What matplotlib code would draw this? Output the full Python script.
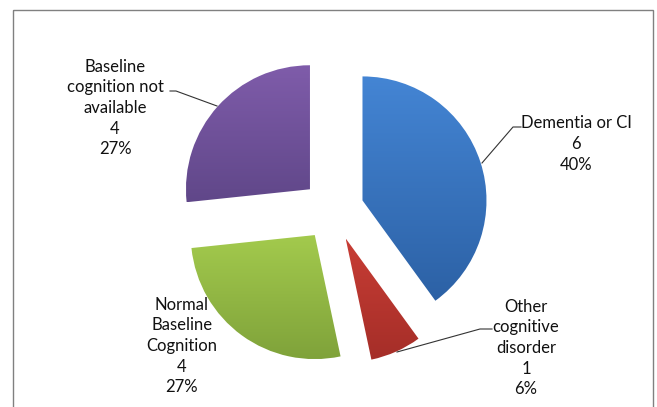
import numpy as np
import matplotlib
matplotlib.use("Agg")
from matplotlib import pyplot as plt
from matplotlib.colors import to_rgb
from matplotlib.patches import Rectangle

# data
categories = ["Dementia or CI", "Other\ncognitive\ndisorder",
              "Normal\nBaseline\nCognition", "Baseline\ncognition not\navailable"]
counts = [6, 1, 4, 4]
pct_labels = ["40%", "6%", "27%", "27%"]

# (top, bottom) gradient colours per slice
slice_colors = [("#4485d4", "#2c61a5"),
                ("#c83d35", "#a52e28"),
                ("#a3ca4d", "#7fa23a"),
                ("#7f5caa", "#604789")]

W, H = 657, 407
plt.rcParams['font.family'] = ['Lato', 'DejaVu Sans']

fig = plt.figure(figsize=(W / 100, H / 100), dpi=100)
ax = fig.add_axes([0, 0, 1, 1])
ax.axis('off')

# pie in pixel coordinates, y axis pointing down
center = (333, 210)
radius = 124
wedges, _ = ax.pie(counts, center=center, radius=radius,
                   explode=[31] * len(counts), startangle=-90,
                   counterclock=True, frame=True)

for w, (c_top, c_bot) in zip(wedges, slice_colors):
    verts = w.get_path().vertices
    x0, y0 = verts.min(axis=0)
    x1, y1 = verts.max(axis=0)
    t = np.linspace(0, 1, 256)[:, None]
    grad = (1 - t) * np.array(to_rgb(c_top)) + t * np.array(to_rgb(c_bot))
    im = ax.imshow(grad[:, None, :], extent=(x0, x1, y1, y0), origin='upper',
                   aspect='auto', interpolation='bilinear', zorder=1)
    im.set_clip_path(w)
    w.set_facecolor('none')
    w.set_edgecolor('none')

# labels
label_pos = [(576, 144), (526, 348), (182, 346), (115, 108)]
for cat, n, pct, (lx, ly) in zip(categories, counts, pct_labels, label_pos):
    ax.text(lx, ly, f"{cat}\n{n}\n{pct}", ha='center', va='center',
            fontsize=12, linespacing=1.36, color='#111111', zorder=5)

# leader lines
leaders = [([521, 513, 482], [127, 127, 163]),
           ([492, 480, 397], [329, 329, 352]),
           ([170, 176, 217], [91, 91, 106])]
for xs, ys in leaders:
    ax.plot(xs, ys, color='#333333', lw=0.8, zorder=4)

# chart frame
ax.add_patch(Rectangle((12.5, 9.5), 640, 420, fill=False,
                       edgecolor='#808080', lw=1.0, zorder=3))

ax.set_xlim(0, W)
ax.set_ylim(H, 0)

fig.savefig("out.png", dpi=100)
